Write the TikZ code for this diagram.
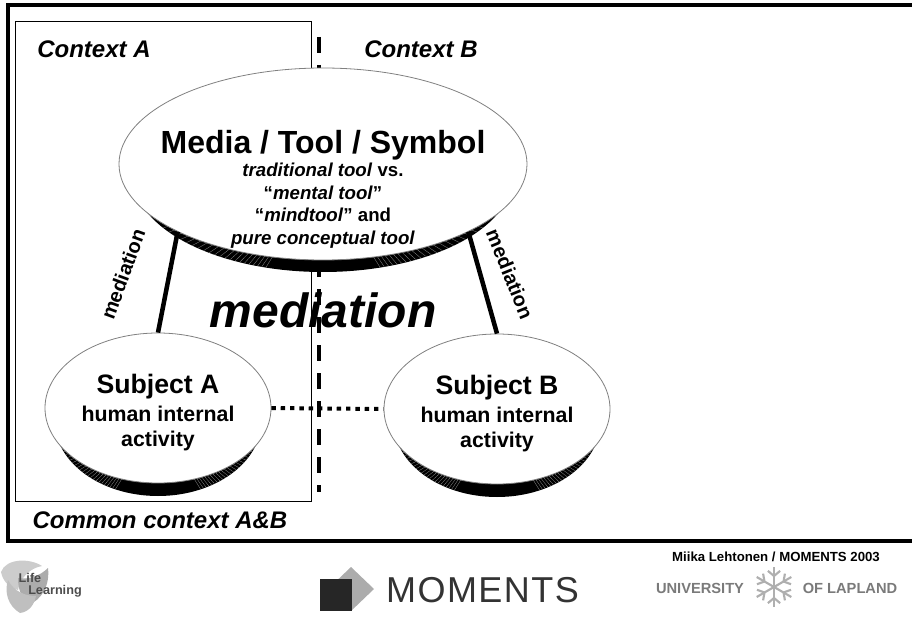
\documentclass[tikz,border=0pt]{standalone}
\usepackage{fontspec}
\setmainfont{Liberation Sans}
\usetikzlibrary{shapes.geometric}
\definecolor{logogray}{gray}{0.48}
\tikzset{
    discnode/.style={ellipse, draw=gray, line width=0.6pt, fill=white, inner sep=0pt},
    discshade/.style={ellipse, fill=black, inner sep=0pt, path picture={
        \foreach \ang in {18,20,...,58,122,124,...,162} {
            \draw[white!60!black, line width=0.2pt] (path picture bounding box.center) -- ++(\ang:260);
        }
    }},
    disctext/.style={inner sep=0pt, align=center, font=\bfseries},
    contextlabel/.style={inner sep=0pt, font=\bfseries\itshape\fontsize{18}{20}\selectfont},
    medialabel/.style={inner sep=0pt, font=\bfseries\fontsize{15}{15}\selectfont},
    medialink/.style={line width=3.4pt},
    snowarm/.style={draw=logogray!60, line width=1.6pt},
}
\newcommand{\bigline}{\fontsize{24}{28}\selectfont}
\newcommand{\smallline}{\fontsize{14}{17}\selectfont}
\newcommand{\subjecttext}[1]{\fontsize{20}{22}\selectfont Subject #1\\[4pt]\fontsize{16}{19}\selectfont human internal\\[7pt]\fontsize{16}{19}\selectfont activity}
\begin{document}
\begin{tikzpicture}[x=0.75pt, y=-0.75pt]
    \useasboundingbox (0, 0) rectangle (912, 623);
    % context boxes
    \draw[line width=2.6pt] (912, 5) -- (8, 5) -- (8, 541) -- (912, 541);
    \draw[line width=0.5pt] (15.5, 21) rectangle (311.5, 501);
    \draw[line width=3pt, dash pattern=on 12pt off 9pt] (319, 37) -- (319, 492);
    % discs
    \node[discshade, minimum width=285pt, minimum height=144pt] at (323, 176) {};
    \node[discshade, minimum width=155pt, minimum height=112.5pt] at (158, 421) {};
    \node[discshade, minimum width=155pt, minimum height=112.5pt] at (497, 422) {};
    \node[discnode, minimum width=306pt, minimum height=144pt] (tool) at (323, 164) {};
    \node[discnode, minimum width=169.5pt, minimum height=112.5pt] (subjectA) at (158, 408) {};
    \node[discnode, minimum width=169.5pt, minimum height=112.5pt] (subjectB) at (497, 409) {};
    \node[disctext] at (323, 189.3) {\bigline Media / Tool / Symbol\\[1pt]
        \smallline \textit{traditional tool} vs.\\[5pt]\smallline ``\textit{mental tool}''\\[5pt]\smallline ``\textit{mindtool}'' and\\[5pt]\smallline \textit{pure conceptual tool}};
    \node[disctext] at (158, 412.5) {\subjecttext{A}};
    \node[disctext] at (497, 413.5) {\subjecttext{B}};
    % links
    \draw[medialink] (tool.205) -- (subjectA.north);
    \draw[medialink] (tool.-25) -- (subjectB.north);
    \draw[line width=3pt, dash pattern=on 3.3pt off 3.7pt] (subjectA.east) -- (subjectB.west);
    % labels
    \node[contextlabel] at (94, 49) {Context A};
    \node[contextlabel] at (421, 49) {Context B};
    \node[contextlabel] at (160, 520) {Common context A\&B};
    \node[medialabel, rotate=70] at (123, 274) {mediation};
    \node[medialabel, rotate=-68] at (510, 274) {mediation};
    \node[inner sep=0pt, font=\bfseries\itshape\fontsize{36}{38}\selectfont] at (323, 310) {mediation};
    % logos
    \fill[gray!40] (1, 572) .. controls (6, 558) and (30, 558) .. (42, 566) .. controls (30, 568) and (20, 578) .. (18, 590) .. controls (10, 588) and (3, 582) .. (1, 572);
    \fill[gray!65] (48, 568) .. controls (50, 585) and (42, 600) .. (28, 605) .. controls (22, 598) and (18, 590) .. (18, 578) .. controls (28, 580) and (40, 576) .. (48, 568);
    \fill[gray!50] (8, 580) .. controls (14, 592) and (26, 596) .. (36, 596) .. controls (34, 606) and (28, 612) .. (20, 613) .. controls (8, 606) and (4, 592) .. (8, 580);
    \node[inner sep=0pt, text=black!70, font=\bfseries\fontsize{9.5}{9}\selectfont] at (30, 578) {Life};
    \node[inner sep=0pt, text=black!70, font=\bfseries\fontsize{9.5}{9}\selectfont] at (55, 591) {Learning};
    \fill[gray!65] (351, 567) -- (374, 589) -- (351, 611) -- (328, 589) -- cycle;
    \fill[black!85] (320, 579) rectangle (352, 611);
    \node[inner sep=0pt, text=black!80, font=\fontsize{27}{30}\selectfont\addfontfeatures{LetterSpace=4}] at (482.5, 590) {MOMENTS};
    \node[inner sep=0pt, font=\bfseries\fontsize{9.9}{11}\selectfont] at (776, 557) {Miika Lehtonen / MOMENTS 2003};
    \node[inner sep=0pt, text=logogray, font=\bfseries\fontsize{11}{12}\selectfont] at (700, 588) {UNIVERSITY};
    \node[inner sep=0pt, text=logogray, font=\bfseries\fontsize{11}{12}\selectfont] at (850, 588) {OF LAPLAND};
    \coordinate (flake) at (774, 587);
    \foreach \ang in {30, 90, 150, 210, 270, 330} {
        \draw[snowarm] (flake) -- ++(\ang:20);
        \draw[snowarm] (flake) ++(\ang:11) -- ++(\ang+50:8);
        \draw[snowarm] (flake) ++(\ang:11) -- ++(\ang-50:8);
    }
\end{tikzpicture}
\end{document}
